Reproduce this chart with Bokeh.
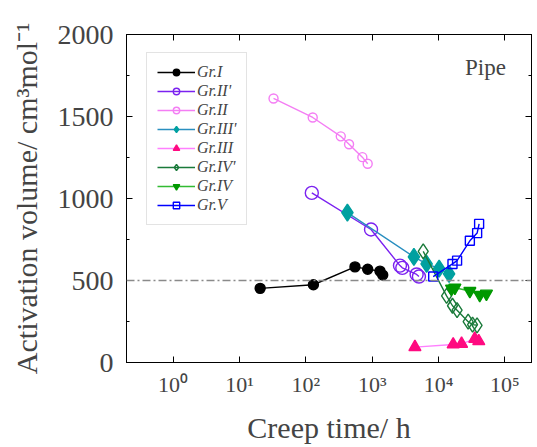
from bokeh.plotting import figure
from bokeh.models import (LinearAxis, LogAxis, FixedTicker, SingleIntervalTicker, Span, Label,
                          CustomJSTickFormatter, Range1d)
from bokeh.embed import file_html
from bokeh.resources import INLINE

# ---- data ----
gr1_t = [20.5, 130, 550, 855, 1310, 1440]
gr1_v = [452, 474, 583, 569, 557, 533]

gr2p_t = [123, 960, 2620, 2840, 4670, 5060]
gr2p_v = [1034, 811, 591, 577, 537, 524]

gr2_t = [32.6, 127, 336, 448, 710, 855]
gr2_v = [1610, 1494, 1379, 1331, 1252, 1212]

gr3p_t = [423, 4250, 6600, 10200, 14400]
gr3p_v = [914, 644, 601, 573, 541]

gr3_t = [4400, 16600, 22200, 35100, 40300]
gr3_v = [94, 110, 114, 144, 130]

gr4p_t = [5870, 13200, 16200, 19000, 27900, 32500, 38000]
gr4p_v = [678, 406, 346, 319, 249, 231, 227]

gr4_t = [15700, 17600, 29600, 41700, 52600]
gr4_v = [450, 456, 436, 412, 420]

gr5_t = [8300, 16200, 19000, 29600, 38100, 40800]
gr5_v = [524, 601, 621, 742, 789, 845]

x_ticks = [1, 10, 100, 1000, 10000, 100000]
ref_level = 500

FONT = "'Liberation Serif'"

p = figure(width=536, height=446, x_axis_type="log",
           x_range=Range1d(10 ** -0.702, 10 ** 5.40), y_range=Range1d(0, 2000),
           output_backend="svg", toolbar_location=None,
           min_border_left=126, min_border_right=5, min_border_top=34, min_border_bottom=81)
p.xgrid.visible = False
p.ygrid.visible = False
p.outline_line_color = "black"
p.background_fill_color = "white"
p.border_fill_color = "white"

fmt = CustomJSTickFormatter(code="""
const sup = {"0":"\u2070","1":"\u00b9","2":"\u00b2","3":"\u00b3","4":"\u2074","5":"\u2075","6":"\u2076","-":"\u207b"};
const e = Math.round(Math.log10(tick));
return "10" + String(e).split("").map(c => sup[c]).join("");
""")

xa = p.xaxis[0]
xa.ticker = FixedTicker(ticks=x_ticks)
xa.formatter = fmt
xa.axis_label = "Creep time/ h"
ya = p.yaxis[0]
ya.ticker = SingleIntervalTicker(interval=500, num_minor_ticks=2)
ya.axis_label = "Activation volume/ cm\u00b3mol\u207b\u00b9"

for ax in (xa, ya):
    ax.axis_label_text_font = FONT
    ax.axis_label_text_font_style = "normal"
    ax.axis_label_text_font_size = "30px"
    ax.major_label_text_font = FONT
    ax.major_tick_in = 6
    ax.major_tick_out = 0
    ax.minor_tick_in = 3
    ax.minor_tick_out = 0
    ax.axis_line_color = "black"
    ax.major_tick_line_color = "black"
xa.major_label_text_font_size = "22px"
ya.major_label_text_font_size = "28px"
xa.minor_tick_line_color = None
xa.major_label_standoff = 9
xa.axis_label_standoff = 11
ya.major_label_standoff = 13
ya.axis_label_standoff = 12

# mirrored tick-only axes
ra = LinearAxis(ticker=SingleIntervalTicker(interval=500, num_minor_ticks=2),
                major_label_text_font_size="1px", major_label_text_color=None,
                major_tick_in=6, major_tick_out=0,
                minor_tick_in=3, minor_tick_out=0, major_label_standoff=0)
ta = LogAxis(ticker=FixedTicker(ticks=x_ticks), major_label_text_font_size="1px",
             major_label_text_color=None,
             major_tick_in=6, major_tick_out=0, minor_tick_line_color=None, major_label_standoff=0)
p.add_layout(ra, "right")
p.add_layout(ta, "above")

p.add_layout(Span(location=ref_level, dimension="width", line_color="#8a8a8a",
                  line_dash="8 3 2 3", line_width=1.3))

lw = 1.4
def series(t, v, label, line_color, marker, size, fill, edge):
    p.line(t, v, line_color=line_color, line_width=lw, legend_label=label)
    p.scatter(t, v, marker=marker, size=size, fill_color=fill, line_color=edge,
              line_width=1.4, legend_label=label)

series(gr1_t, gr1_v, "Gr.I", "black", "circle", 10, "black", "black")
series(gr2p_t, gr2p_v, "Gr.II'", "#7b22f0", "circle", 13, None, "#7b22f0")
series(gr2_t, gr2_v, "Gr.II", "#f47ef4", "circle", 9, None, "#f47ef4")
series(gr3p_t, gr3p_v, "Gr.III'", "#2a8fc0", "diamond", 17, "#00a0a0", "#00a0a0")
series(gr3_t, gr3_v, "Gr.III", "#ff80ff", "triangle", 12, "#ff0a80", "#ff0a80")
series(gr4p_t, gr4p_v, "Gr.IV'", "#1a7a3a", "diamond", 15, None, "#1a7a3a")
series(gr4_t, gr4_v, "Gr.IV", "#33bb33", "inverted_triangle", 12, "#009900", "#009900")
series(gr5_t, gr5_v, "Gr.V", "#0000ff", "square", 9, None, "#0000ff")

lg = p.legend[0]
lg.location = (20, 137)
lg.label_text_font = FONT
lg.label_text_font_style = "italic"
lg.label_text_font_size = "16px"
lg.label_height = 16
lg.glyph_height = 16
lg.glyph_width = 38
lg.spacing = 1
lg.padding = 10
lg.label_standoff = 2
lg.margin = 0
lg.border_line_color = "#c8c8c8"
lg.border_line_width = 1
lg.background_fill_alpha = 1

p.add_layout(Label(x=25000, y=1800, text="Pipe", text_font=FONT, text_font_size="23px",
                   text_baseline="middle"))

open("out.html", "w").write(file_html(p, INLINE))
